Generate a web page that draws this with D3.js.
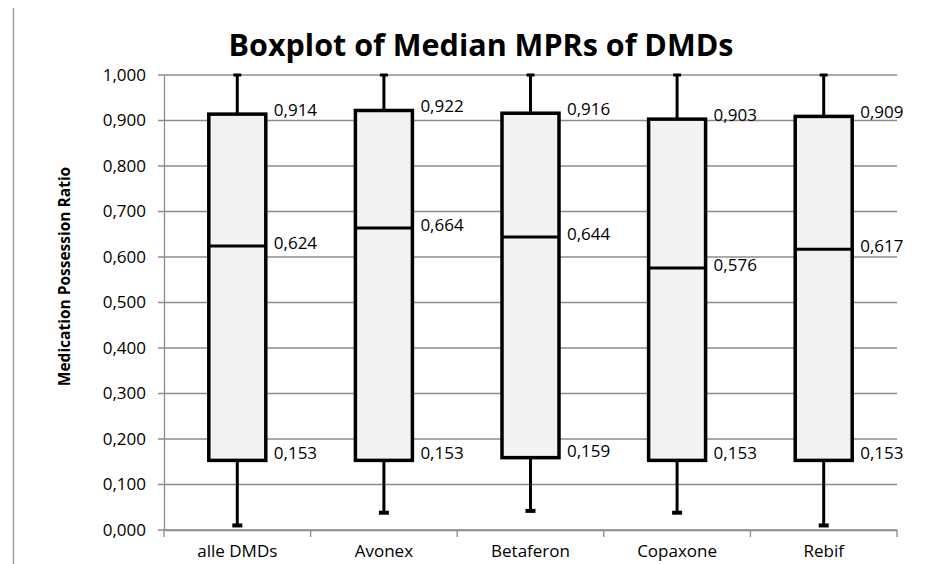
<!DOCTYPE html>
<html>
<head>
<meta charset="utf-8">
<script src="https://cdn.jsdelivr.net/npm/d3@7"></script>
<style>
  body { margin: 0; background: #fff; }
  svg { display: block; font-family: "Open Sans", sans-serif; }
</style>
</head>
<body>
<div id="chart"></div>
<script>
// Data
const categories = ["alle DMDs", "Avonex", "Betaferon", "Copaxone", "Rebif"];
const whiskerLow = [0.010, 0.038, 0.042, 0.038, 0.010];
const q1Values = [0.153, 0.153, 0.159, 0.153, 0.153];
const medianValues = [0.624, 0.664, 0.644, 0.576, 0.617];
const q3Values = [0.914, 0.922, 0.916, 0.903, 0.909];
const whiskerHigh = [1.000, 1.000, 1.000, 1.000, 1.000];
const yTicks = [0, 0.1, 0.2, 0.3, 0.4, 0.5, 0.6, 0.7, 0.8, 0.9, 1.0];

const data = categories.map((c, i) => ({
    cat: c, lo: whiskerLow[i], q1: q1Values[i], med: medianValues[i], q3: q3Values[i], hi: whiskerHigh[i]
}));

const W = 946, H = 564;
const margin = { top: 75, right: 49, bottom: 34, left: 164 };
const width = W - margin.left - margin.right;
const height = H - margin.top - margin.bottom;
const fmt = v => d3.format(".3f")(v).replace(".", ",");

const root = d3.select("#chart").append("svg")
    .attr("width", W).attr("height", H);

// left border line from the page
root.append("line")
    .attr("x1", 13.5).attr("x2", 13.5).attr("y1", 8).attr("y2", H)
    .attr("stroke", "#a0a0a0").attr("stroke-width", 1.5);

root.append("text")
    .attr("x", 481).attr("y", 56)
    .attr("text-anchor", "middle")
    .attr("font-size", 30.5).attr("font-weight", "bold")
    .text("Boxplot of Median MPRs of DMDs");

const svg = root.append("g").attr("transform", `translate(${margin.left},${margin.top})`);

const x = d3.scaleBand().domain(categories).range([0, width]);
const y = d3.scaleLinear().domain([0, 1]).range([height, 0]);

// gridlines
svg.append("g")
    .selectAll("line").data(yTicks).enter().append("line")
    .attr("x1", -6).attr("x2", width)
    .attr("y1", d => y(d)).attr("y2", d => y(d))
    .attr("stroke", "#8c8c8c").attr("stroke-width", 1.3);

// y axis
const yAxis = svg.append("g")
    .call(d3.axisLeft(y).tickValues(yTicks).tickFormat(fmt).tickSize(0).tickPadding(18));
yAxis.select(".domain").attr("stroke", "#8c8c8c").attr("stroke-width", 1.3);
yAxis.selectAll("text").attr("font-size", 17).attr("fill", "#000")
    .attr("font-family", "Open Sans, sans-serif");

// x axis
const xAxis = svg.append("g")
    .attr("transform", `translate(0,${height})`)
    .call(d3.axisBottom(x).tickSize(0).tickPadding(15));
xAxis.select(".domain").attr("stroke", "#8c8c8c").attr("stroke-width", 1.3);
xAxis.selectAll("text").attr("font-size", 17).attr("fill", "#000")
    .attr("font-family", "Open Sans, sans-serif");
xAxis.selectAll(".sep").data(d3.range(categories.length + 1)).enter().append("line")
    .attr("x1", i => i * x.step()).attr("x2", i => i * x.step())
    .attr("y1", 0).attr("y2", 7)
    .attr("stroke", "#8c8c8c").attr("stroke-width", 1.3);

// y axis title
root.append("text")
    .attr("transform", `translate(70,${margin.top + height / 2 - 26}) rotate(-90)`)
    .attr("text-anchor", "middle")
    .attr("font-size", 15.5).attr("font-weight", "bold")
    .text("Medication Possession Ratio");

// boxes
const boxW = 57;
const g = svg.selectAll(".box").data(data).enter().append("g")
    .attr("transform", d => `translate(${x(d.cat) + x.bandwidth() / 2},0)`);

g.append("line").attr("x1", 0).attr("x2", 0)
    .attr("y1", d => y(d.hi)).attr("y2", d => y(d.lo))
    .attr("stroke", "#000").attr("stroke-width", 3);
g.append("line").attr("x1", -4).attr("x2", 4)
    .attr("y1", d => y(d.hi)).attr("y2", d => y(d.hi))
    .attr("stroke", "#000").attr("stroke-width", 3);
g.append("line").attr("x1", -5).attr("x2", 5)
    .attr("y1", d => y(d.lo)).attr("y2", d => y(d.lo))
    .attr("stroke", "#000").attr("stroke-width", 4);

g.append("rect")
    .attr("x", -boxW / 2).attr("width", boxW)
    .attr("y", d => y(d.q3)).attr("height", d => y(d.q1) - y(d.q3))
    .attr("fill", "#f2f2f2").attr("stroke", "#000").attr("stroke-width", 3.5);
g.append("line").attr("x1", -boxW / 2).attr("x2", boxW / 2)
    .attr("y1", d => y(d.med)).attr("y2", d => y(d.med))
    .attr("stroke", "#000").attr("stroke-width", 3);

// value labels
const labelOffsets = [["q3", -4], ["med", -3], ["q1", -7]];
labelOffsets.forEach(([key, dy]) => {
    g.append("text")
        .attr("x", boxW / 2 + 8)
        .attr("y", d => y(d[key]) + dy)
        .attr("dy", "0.35em")
        .attr("font-size", 17)
        .text(d => fmt(d[key]));
});
</script>
</body>
</html>
